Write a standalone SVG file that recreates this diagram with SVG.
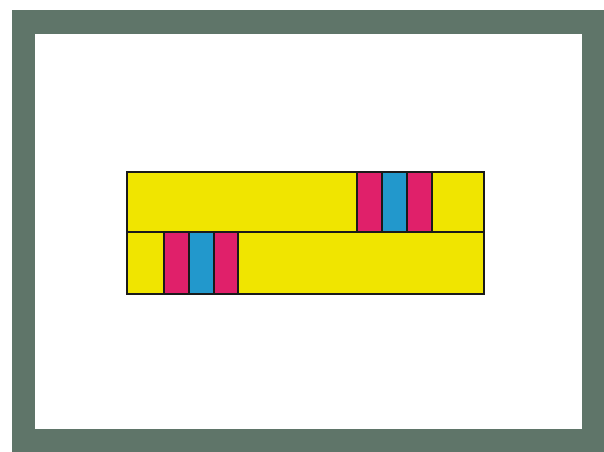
<svg xmlns="http://www.w3.org/2000/svg" width="604" height="452" viewBox="0 0 604 452">
<style>
.y{fill:#F0E500;stroke:#1a1a1a;stroke-width:2}
.m{fill:#E0206A;stroke:#1a1a1a;stroke-width:2}
.c{fill:#2298CC;stroke:#1a1a1a;stroke-width:2}
</style>
<rect x="0" y="0" width="604" height="452" fill="#ffffff"/>
<g id="frame">
<rect x="12" y="10" width="592" height="442" fill="#5F7569"/>
<rect x="35" y="34" width="547" height="395" fill="#ffffff"/>
</g>
<g id="bar-top">
<rect class="y" x="127" y="172" width="357" height="60"/>
<rect class="m" x="357" y="172" width="25" height="60"/>
<rect class="c" x="382" y="172" width="25" height="60"/>
<rect class="m" x="407" y="172" width="25" height="60"/>
</g>
<g id="bar-bottom">
<rect class="y" x="127" y="232" width="357" height="62"/>
<rect class="m" x="164" y="232" width="25" height="62"/>
<rect class="c" x="189" y="232" width="25" height="62"/>
<rect class="m" x="214" y="232" width="24" height="62"/>
</g>
</svg>
